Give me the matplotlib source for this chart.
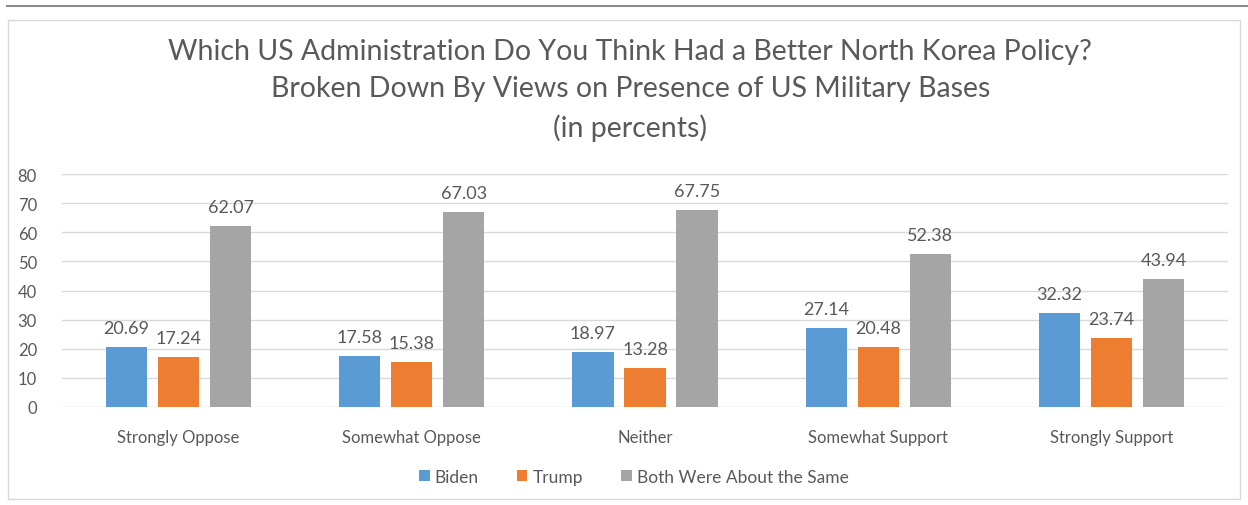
import numpy as np
import matplotlib.pyplot as plt
from matplotlib.patches import Rectangle
from matplotlib.lines import Line2D

categories = ["Strongly Oppose", "Somewhat Oppose", "Neither", "Somewhat Support", "Strongly Support"]
biden = [20.69, 17.58, 18.97, 27.14, 32.32]
trump = [17.24, 15.38, 13.28, 20.48, 23.74]
same = [62.07, 67.03, 67.75, 52.38, 43.94]
series_names = ["Biden", "Trump", "Both Were About the Same"]
colors = ["#5B9BD5", "#ED7D31", "#A5A5A5"]

plt.rcParams['font.family'] = ['Lato', 'DejaVu Sans']
txt = "#595959"

fig = plt.figure(figsize=(12.48, 5.06), dpi=100)
# frame lines
fig.add_artist(Line2D([7/1248, 1.0], [1 - 7/506, 1 - 7/506], color="#8c8c8c", lw=1.5))
fig.add_artist(Rectangle((8/1248, 6/506), 1232/1248, 479/506, fill=False, edgecolor="#d9d9d9", lw=1))

ax = fig.add_axes([62/1248, 1 - 408/506, 1166/1248, 233/506])
x = np.arange(len(categories))
w = 0.176
off = 0.223
for i, (vals, name, c) in enumerate(zip([biden, trump, same], series_names, colors)):
    bars = ax.bar(x + (i - 1) * off, vals, w, color=c, label=name, zorder=3)
    for b, v in zip(bars, vals):
        ax.text(b.get_x() + b.get_width() / 2, v + 3.8, f"{v:.2f}", ha="center", va="bottom",
                fontsize=13, color=txt)

ax.set_xlim(-0.5, len(categories) - 0.5)
ax.set_ylim(0, 80)
ax.set_yticks(range(0, 81, 10))
ax.set_xticks(x)
ax.set_xticklabels(categories)
ax.tick_params(length=0, colors=txt, labelsize=12)
ax.tick_params(axis="y", pad=18)
ax.tick_params(axis="x", pad=16)
ax.grid(axis="y", color="#d9d9d9", lw=1, zorder=0)
for s in ax.spines.values():
    s.set_visible(False)

fig.text(0.505, 1 - 52/506, "Which US Administration Do You Think Had a Better North Korea Policy?",
         ha="center", va="center", fontsize=20.5, color=txt)
fig.text(0.505, 1 - 89/506, "Broken Down By Views on Presence of US Military Bases",
         ha="center", va="center", fontsize=20.5, color=txt)
fig.text(0.505, 1 - 128/506, "(in percents)", ha="center", va="center", fontsize=20.5, color=txt)

fig.legend(loc="center", bbox_to_anchor=(0.508, 1 - 478/506), ncol=3, frameon=False,
           fontsize=12.5, handlelength=0.6, handleheight=0.6, handletextpad=0.3, columnspacing=2.2,
           labelcolor=txt)

fig.savefig("out.png", dpi=100)
